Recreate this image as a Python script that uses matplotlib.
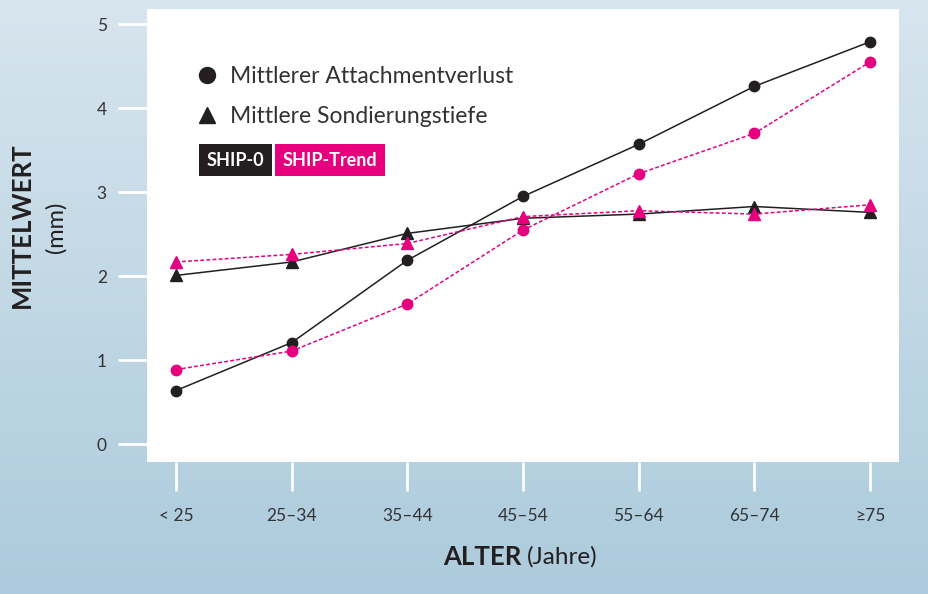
import numpy as np
import matplotlib
matplotlib.use('Agg')
import matplotlib.pyplot as plt
from matplotlib.lines import Line2D

plt.rcParams['font.family'] = ['Lato', 'DejaVu Sans']

# data
alter = ['< 25', '25\u201334', '35\u201344', '45\u201354', '55\u201364', '65\u201374', '\u226575']
attach_ship0 = [0.64, 1.21, 2.19, 2.95, 3.57, 4.26, 4.79]
attach_trend = [0.89, 1.11, 1.67, 2.55, 3.22, 3.70, 4.55]
sond_ship0 = [2.01, 2.17, 2.51, 2.69, 2.74, 2.83, 2.76]
sond_trend = [2.17, 2.26, 2.39, 2.71, 2.78, 2.74, 2.85]
yticks = [0, 1, 2, 3, 4, 5]

black = '#231f20'
pink = '#e6007e'
textcol = '#333333'

fig = plt.figure(figsize=(9.29, 5.94), dpi=100)

# background gradient
bg = fig.add_axes([0, 0, 1, 1], zorder=-10)
grad = np.linspace(0, 1, 256).reshape(-1, 1)
top = np.array([215, 229, 238]) / 255
bot = np.array([172, 203, 220]) / 255
img = top + (bot - top) * grad[:, :, None]
bg.imshow(img, aspect='auto', extent=[0, 1, 0, 1])
bg.axis('off')

ax = fig.add_axes([147/929, 1 - 462/594, (899-147)/929, (462-9)/594])
ax.set_facecolor('white')
x = np.arange(len(alter))

ax.plot(x, attach_ship0, color=black, lw=1.1, marker='o', ms=7.5, zorder=3)
ax.plot(x, sond_ship0, color=black, lw=1.1, marker='^', ms=8.5, zorder=3)
ax.plot(x, attach_trend, color=pink, lw=1.1, ls=(0, (2.5, 1.5)), marker='o', ms=7.5, zorder=4)
ax.plot(x, sond_trend, color=pink, lw=1.1, ls=(0, (2.5, 1.5)), marker='^', ms=8.5, zorder=4)

ax.set_xlim(-0.25, 6.25)
ax.set_ylim(-0.21, 5.18)
ax.set_xticks(x)
ax.set_xticklabels(alter)
ax.set_yticks(yticks)
for s in ax.spines.values():
    s.set_visible(False)
ax.tick_params(axis='both', length=21, width=2, color='white', labelcolor=textcol,
               labelsize=12.5, pad=8)
ax.tick_params(axis='x', pad=12)

handles = [Line2D([], [], color=black, marker='o', ls='none', ms=11.5),
           Line2D([], [], color=black, marker='^', ls='none', ms=11.5)]
leg = ax.legend(handles, ['Mittlerer Attachmentverlust', 'Mittlere Sondierungstiefe'],
                loc='upper left', bbox_to_anchor=(177/929, 1 - 45/594),
                bbox_transform=fig.transFigure, frameon=False, fontsize=16.5,
                handlelength=0.8, handletextpad=0.6, labelspacing=0.85, labelcolor=textcol)

fig.text(207/929, 1 - 160/594, 'SHIP-0', color='white', fontsize=13, fontweight='bold',
         va='center', ha='left',
         bbox=dict(boxstyle='square,pad=0.42', fc=black, ec='none'))
fig.text(283/929, 1 - 160/594, 'SHIP-Trend', color='white', fontsize=13, fontweight='bold',
         va='center', ha='left',
         bbox=dict(boxstyle='square,pad=0.42', fc=pink, ec='none'))

# axis titles
fig.text(22/929, 1 - 225/594, 'MITTELWERT', rotation=90, fontsize=18.5, fontweight='bold',
         color=black, ha='center', va='center')
fig.text(56/929, 1 - 227/594, '(mm)', rotation=90, fontsize=17, color=black,
         ha='center', va='center')
t1 = fig.text(443/929, 1 - 557/594, 'ALTER', fontsize=18.5, fontweight='bold', color=black,
              ha='left', va='center')
fig.canvas.draw()
bb = t1.get_window_extent()
fig.text((bb.x1 + 6)/929, 1 - 557/594, '(Jahre)', fontsize=17.5, color=black,
         ha='left', va='center')

fig.savefig('out.png', dpi=100)
